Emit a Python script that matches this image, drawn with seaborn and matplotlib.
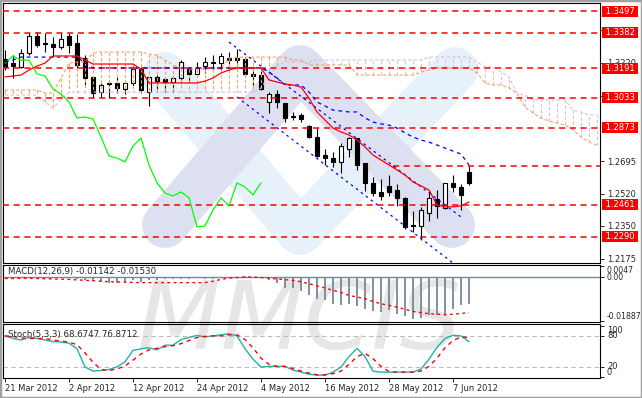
import numpy as np
import pandas as pd
import matplotlib
matplotlib.use("Agg")
import matplotlib.pyplot as plt
import seaborn as sns
from matplotlib.textpath import TextPath
from matplotlib.patches import PathPatch, Rectangle
from matplotlib.font_manager import FontProperties
from matplotlib.transforms import Affine2D

# daily candles, 21 Mar 2012 - 11 Jun 2012
opens = [1.3240, 1.3219, 1.3198, 1.3273, 1.3364, 1.3326, 1.3321, 1.3305, 1.3364, 1.3326,
         1.3246, 1.3145, 1.3064, 1.3113, 1.3113, 1.3081, 1.3113, 1.3187, 1.3064, 1.3145,
         1.3134, 1.3118, 1.3139, 1.3187, 1.3161, 1.3203, 1.3225, 1.3219, 1.3246, 1.3246,
         1.3241, 1.3161, 1.3155, 1.3011, 1.3054, 1.3006, 1.2936, 1.2942, 1.2883, 1.2824,
         1.2728, 1.2712, 1.2691, 1.2760, 1.2819, 1.2685, 1.2579, 1.2531, 1.2562, 1.2541,
         1.2499, 1.2352, 1.2349, 1.2418, 1.2493, 1.2445, 1.2579, 1.2557, 1.2637]
highs = [1.3289, 1.3262, 1.3294, 1.3380, 1.3385, 1.3380, 1.3358, 1.3380, 1.3380, 1.3374,
         1.3262, 1.3145, 1.3113, 1.3129, 1.3145, 1.3123, 1.3214, 1.3198, 1.3145, 1.3155,
         1.3145, 1.3150, 1.3235, 1.3198, 1.3225, 1.3251, 1.3262, 1.3273, 1.3278, 1.3294,
         1.3251, 1.3193, 1.3182, 1.3064, 1.3075, 1.3006, 1.2958, 1.2952, 1.2888, 1.2872,
         1.2760, 1.2744, 1.2792, 1.2824, 1.2819, 1.2685, 1.2611, 1.2600, 1.2621, 1.2573,
         1.2504, 1.2429, 1.2451, 1.2536, 1.2541, 1.2579, 1.2621, 1.2573, 1.2669]
lows = [1.3182, 1.3139, 1.3193, 1.3262, 1.3305, 1.3278, 1.3251, 1.3294, 1.3273, 1.3182,
        1.3102, 1.3038, 1.3038, 1.3032, 1.3059, 1.3054, 1.3097, 1.3059, 1.2990, 1.3064,
        1.3064, 1.3064, 1.3113, 1.3113, 1.3155, 1.3166, 1.3187, 1.3182, 1.3203, 1.3203,
        1.3145, 1.3097, 1.3075, 1.2952, 1.2979, 1.2904, 1.2915, 1.2904, 1.2819, 1.2717,
        1.2675, 1.2664, 1.2632, 1.2717, 1.2648, 1.2536, 1.2509, 1.2488, 1.2509, 1.2456,
        1.2333, 1.2317, 1.2275, 1.2376, 1.2392, 1.2440, 1.2531, 1.2434, 1.2568]
closes = [1.3200, 1.3203, 1.3273, 1.3364, 1.3315, 1.3321, 1.3305, 1.3347, 1.3315, 1.3209,
          1.3139, 1.3059, 1.3102, 1.3107, 1.3086, 1.3113, 1.3187, 1.3075, 1.3145, 1.3123,
          1.3118, 1.3139, 1.3225, 1.3161, 1.3193, 1.3225, 1.3219, 1.3257, 1.3235, 1.3235,
          1.3161, 1.3150, 1.3081, 1.3054, 1.3011, 1.2926, 1.2931, 1.2920, 1.2824, 1.2723,
          1.2712, 1.2691, 1.2776, 1.2819, 1.2675, 1.2579, 1.2525, 1.2509, 1.2531, 1.2499,
          1.2344, 1.2349, 1.2434, 1.2499, 1.2456, 1.2579, 1.2557, 1.2515, 1.2579]

# Ichimoku lines
tenkan = [1.3145, 1.3150, 1.3155, 1.3182, 1.3203, 1.3219, 1.3257, 1.3257, 1.3257, 1.3257,
          1.3235, 1.3214, 1.3214, 1.3214, 1.3214, 1.3214, 1.3214, 1.3187, 1.3113, 1.3113,
          1.3113, 1.3113, 1.3113, 1.3113, 1.3113, 1.3123, 1.3139, 1.3166, 1.3182, 1.3193,
          1.3193, 1.3193, 1.3193, 1.3129, 1.3118, 1.3107, 1.3102, 1.3091, 1.3032, 1.2958,
          1.2915, 1.2872, 1.2851, 1.2835, 1.2808, 1.2771, 1.2728, 1.2701, 1.2675, 1.2648,
          1.2621, 1.2584, 1.2563, 1.2541, 1.2461, 1.2451, 1.2451, 1.2456, 1.2477]
kijun = [1.3225, 1.3235, 1.3251, 1.3251, 1.3251, 1.3251, 1.3251, 1.3251, 1.3251, 1.3251,
         1.3219, 1.3193, 1.3193, 1.3193, 1.3193, 1.3193, 1.3193, 1.3193, 1.3193, 1.3193,
         1.3193, 1.3193, 1.3193, 1.3193, 1.3193, 1.3193, 1.3193, 1.3193, 1.3193, 1.3193,
         1.3193, 1.3193, 1.3193, 1.3171, 1.3139, 1.3102, 1.3102, 1.3102, 1.3064, 1.3011,
         1.2990, 1.2968, 1.2963, 1.2958, 1.2958, 1.2926, 1.2904, 1.2894, 1.2888, 1.2872,
         1.2846, 1.2824, 1.2808, 1.2797, 1.2781, 1.2765, 1.2749, 1.2733, 1.2675]
span_a = [1.3075, 1.3075, 1.3075, 1.3075, 1.3075, 1.3059, 1.3059, 1.3139, 1.3219, 1.3225,
          1.3225, 1.3273, 1.3278, 1.3278, 1.3278, 1.3278, 1.3278, 1.3278, 1.3267, 1.3262,
          1.3235, 1.3209, 1.3193, 1.3187, 1.3187, 1.3187, 1.3187, 1.3187, 1.3246, 1.3251,
          1.3251, 1.3251, 1.3251, 1.3251, 1.3251, 1.3251, 1.3235, 1.3235, 1.3209, 1.3209,
          1.3209, 1.3209, 1.3209, 1.3209, 1.3155, 1.3155, 1.3155, 1.3155, 1.3155, 1.3155,
          1.3155, 1.3155, 1.3171, 1.3182, 1.3193, 1.3193, 1.3193, 1.3193, 1.3193, 1.3166,
          1.3113, 1.3102, 1.3102, 1.3086, 1.3059, 1.2984, 1.2952, 1.2926, 1.2910, 1.2899,
          1.2888, 1.2862, 1.2824, 1.2797, 1.2781]
span_b = [1.3048, 1.3048, 1.3048, 1.3048, 1.3048, 1.3011, 1.2979, 1.3022, 1.3064, 1.3064,
          1.3064, 1.3064, 1.3064, 1.3064, 1.3064, 1.3064, 1.3064, 1.3064, 1.3064, 1.3064,
          1.3064, 1.3064, 1.3064, 1.3064, 1.3064, 1.3064, 1.3064, 1.3064, 1.3064, 1.3064,
          1.3064, 1.3064, 1.3086, 1.3155, 1.3203, 1.3225, 1.3225, 1.3225, 1.3225, 1.3235,
          1.3235, 1.3235, 1.3235, 1.3235, 1.3235, 1.3235, 1.3235, 1.3235, 1.3235, 1.3235,
          1.3235, 1.3235, 1.3235, 1.3251, 1.3251, 1.3251, 1.3251, 1.3251, 1.3251, 1.3225,
          1.3198, 1.3198, 1.3171, 1.3145, 1.3059, 1.3048, 1.3022, 1.3022, 1.3022, 1.3022,
          1.3022, 1.2968, 1.2958, 1.2942, 1.2942]
chikou_shift = 26

# trend channel and horizontal levels
chan_up_bars = [28, 57]
chan_up = [1.3331, 1.2397]
chan_lo_bars = [29, 57]
chan_lo = [1.3038, 1.2118]
levels = [1.3497, 1.3382, 1.3191, 1.3033, 1.2873, 1.2461, 1.2290]
ray_level = 1.2669
ray_start = 48.5
price_ticks = [1.2175, 1.2350, 1.2520, 1.2695, 1.3045, 1.3220, 1.3395]

# MACD(12,26,9)
macd_hist = [-0.0002, -0.0002, -0.0001, 0.0001, 0.0002, 0.0001, -0.0001, -0.0003, -0.0006, -0.0010,
             -0.0014, -0.0018, -0.0022, -0.0024, -0.0026, -0.0021, -0.0014, -0.0021, -0.0014, -0.0012,
             -0.0010, -0.0010, -0.0008, -0.0008, -0.0006, -0.0008, -0.0008, -0.0006, -0.0002, 0.0002,
             0.0003, 0.0001, -0.0004, -0.0014, -0.0024, -0.0047, -0.0047, -0.0062, -0.0076, -0.0093,
             -0.0100, -0.0115, -0.0119, -0.0115, -0.0125, -0.0136, -0.0148, -0.0151, -0.0143, -0.0158,
             -0.0168, -0.0179, -0.0176, -0.0165, -0.0165, -0.0162, -0.0136, -0.0120, -0.0114]
macd_signal = [-0.0006, -0.0006, -0.0005, -0.0005, -0.0006, -0.0007, -0.0008, -0.0009, -0.0010, -0.0012,
               -0.0014, -0.0016, -0.0018, -0.0020, -0.0021, -0.0022, -0.0023, -0.0024, -0.0024, -0.0024,
               -0.0024, -0.0024, -0.0024, -0.0024, -0.0024, -0.0024, -0.0018, -0.0010, -0.0004, -0.0002,
               0.0000, 0.0000, -0.0002, -0.0004, -0.0008, -0.0011, -0.0014, -0.0020, -0.0029, -0.0038,
               -0.0047, -0.0057, -0.0066, -0.0079, -0.0086, -0.0093, -0.0105, -0.0115, -0.0122, -0.0129,
               -0.0139, -0.0148, -0.0153, -0.0158, -0.0160, -0.0162, -0.0160, -0.0157, -0.0153]
macd_max, macd_min = 0.0047, -0.01887
macd_title = "MACD(12,26,9) -0.01142 -0.01530"

# Stochastic(5,3,3)
stoch_k = [80, 75, 72, 77, 75, 72, 69, 68, 66, 55, 20, 12, 13, 15, 20, 30, 52, 55, 57, 53,
           62, 62, 73, 77, 81, 78, 80, 82, 84, 80, 55, 35, 20, 21, 21, 21, 14, 10, 6, 4,
           4, 10, 20, 40, 56, 40, 12, 10, 10, 10, 10, 10, 16, 35, 58, 75, 81, 80, 68.7]
stoch_d = [80, 79, 76, 75, 75, 75, 72, 70, 68, 63, 47, 29, 15, 13, 16, 22, 33, 45, 53, 56,
           59, 61, 65, 71, 77, 79, 80, 80, 82, 82, 73, 57, 37, 25, 21, 21, 17, 12, 8, 5,
           5, 7, 12, 25, 40, 46, 36, 21, 11, 10, 10, 10, 12, 21, 37, 57, 71, 78, 76.9]
stoch_title = "Stoch(5,3,3) 68.6747 76.8712"

date_bars = [0, 8, 16, 24, 32, 40, 48, 56]
date_labels = ["21 Mar 2012", "2 Apr 2012", "12 Apr 2012", "24 Apr 2012",
               "4 May 2012", "16 May 2012", "28 May 2012", "7 Jun 2012"]

sns.set_style("white")
plt.rcParams["font.family"] = ["DejaVu Sans"]

W, H = 642, 398
fig = plt.figure(figsize=(W / 100, H / 100), dpi=100)


def panel(top, bottom):
    a = fig.add_axes([3 / W, 1 - bottom / H, 597 / W, (bottom - top) / H])
    a.set_facecolor("none")
    for s in a.spines.values():
        s.set_color("black")
        s.set_linewidth(0.8)
    a.set_xlim(-0.25, 74.375)
    return a


ax = panel(3, 263)
ax_macd = panel(265, 322)
ax_st = panel(324, 378)

df = pd.DataFrame({"o": opens, "h": highs, "l": lows, "c": closes})
df["bar"] = np.arange(len(df))
cloud_x = np.arange(len(span_a))


# watermark logo in the price panel
def frac(x, y):
    return (x - 3) / 597, (263 - y) / 260


for pts, col in [([(165, 75), (300, 232), (455, 70)], "#e7f1fa"),
                 ([(165, 225), (300, 68), (452, 225)], "#dce0f0")]:
    fx, fy = zip(*[frac(*p) for p in pts])
    ax.plot(fx, fy, transform=ax.transAxes, color=col, lw=33,
            solid_capstyle="round", solid_joinstyle="round", zorder=0.3)

# candles
up = df["c"] >= df["o"]
ax.vlines(df["bar"], df["l"], df["h"], color="black", lw=0.8, zorder=2)
body = (df["c"] - df["o"]).abs().clip(lower=0.00004)
ax.bar(df["bar"], body, bottom=np.minimum(df["o"], df["c"]), width=0.62,
       color=np.where(up, "white", "black"), edgecolor="black", linewidth=0.8, zorder=2.2)

# ichimoku cloud (hatched with vertical dotted lines)
for x, a, b in zip(cloud_x, span_a, span_b):
    col = "#f4a460" if a >= b else "#d8bfd8"
    ax.plot([x, x], [a, b], color=col, lw=0.8, ls=(0, (3, 2)), zorder=3)
sns.lineplot(x=cloud_x, y=span_a, ax=ax, color="#f4a460", lw=0.8, ls=(0, (3, 2)), zorder=3)
sns.lineplot(x=cloud_x, y=span_b, ax=ax, color="#d8bfd8", lw=0.8, ls=(0, (3, 2)), zorder=3)

# levels and channel
for lv in levels:
    ax.axhline(lv, color="red", lw=1.1, ls=(0, (4, 3)), zorder=3.5)
ax.plot([ray_start, 74.4], [ray_level, ray_level], color="red", lw=1.1, ls=(0, (4, 3)), zorder=3.5)
ax.plot(chan_up_bars, chan_up, color="blue", lw=0.9, ls=(0, (2, 3)), zorder=3.5)
ax.plot(chan_lo_bars, chan_lo, color="blue", lw=0.9, ls=(0, (2, 3)), zorder=3.5)

chikou = closes[chikou_shift:]
sns.lineplot(x=np.arange(len(chikou)), y=chikou, ax=ax, color="#00ff00", lw=0.9, zorder=4)
sns.lineplot(x=df["bar"], y=kijun, ax=ax, color="blue", lw=0.9, ls=(0, (3, 3)), zorder=4)
sns.lineplot(x=df["bar"], y=tenkan, ax=ax, color="red", lw=0.9, zorder=4)

ax.set_ylim(1.2151, 1.3540)
ax.set_yticks(price_ticks)
ax.set_yticklabels([f"{v:.4f}" for v in price_ticks])
ax.tick_params(axis="y", left=False, right=True, labelleft=False, labelright=True,
               length=3, width=0.7, labelsize=6, pad=2, direction="out")
ax.tick_params(axis="x", bottom=False, labelbottom=False)
ax.set_xlabel("")
ax.set_ylabel("")
for lv in levels:
    ax.text(1.005, lv, f" {lv:.4f} ", transform=ax.get_yaxis_transform(), color="white",
            fontsize=6, va="center", ha="left", zorder=10, clip_on=False,
            bbox=dict(boxstyle="square,pad=0.12", fc="red", ec="none"))

# MACD panel
ax_macd.axhline(0, color="#778899", lw=1.0, zorder=1)
ax_macd.vlines(df["bar"], 0, macd_hist, color="#778899", lw=1.3, zorder=2)
sns.lineplot(x=df["bar"], y=macd_signal, ax=ax_macd, color="red", lw=1.0, ls=(0, (2, 2.5)), zorder=3)
ax_macd.set_ylim(-0.01935, 0.0052)
ax_macd.set_yticks([macd_max, 0, macd_min])
ax_macd.set_yticklabels([f"{macd_max:.4f}", "0.00", f"{macd_min:.5f}"])
ax_macd.tick_params(axis="y", left=False, right=True, labelleft=False, labelright=True,
                    length=3, width=0.7, labelsize=5.6, pad=1.5)
for lbl, va in zip(ax_macd.get_yticklabels(), ["top", "center", "bottom"]):
    lbl.set_va(va)
ax_macd.tick_params(axis="x", bottom=False, labelbottom=False)
ax_macd.set_xlabel("")
ax_macd.set_ylabel("")
ax_macd.text(0.009, 0.88, macd_title, transform=ax_macd.transAxes,
             fontsize=6.2, va="center", ha="left", zorder=5)

# Stochastic panel
for lv in [20, 80]:
    ax_st.axhline(lv, color="#bbbbbb", lw=0.8, ls=(0, (4, 3)), zorder=1)
sns.lineplot(x=df["bar"], y=stoch_k, ax=ax_st, color="#20b2aa", lw=1.0, zorder=3)
sns.lineplot(x=df["bar"], y=stoch_d, ax=ax_st, color="red", lw=1.0, ls=(0, (3, 3)), zorder=3)
ax_st.set_ylim(-1.4, 103)
ax_st.set_yticks([100, 80, 20, 0])
ax_st.set_yticklabels(["100", "80", "20", "0"])
ax_st.tick_params(axis="y", left=False, right=True, labelleft=False, labelright=True,
                  length=3, width=0.7, labelsize=6, pad=2)
for lbl, va in zip(ax_st.get_yticklabels(), ["top", "center", "center", "bottom"]):
    lbl.set_va(va)
ax_st.set_xticks(date_bars)
ax_st.set_xticklabels(date_labels, ha="left")
ax_st.tick_params(axis="x", bottom=True, length=3, width=0.7, labelsize=6, pad=1.5)
ax_st.set_xlabel("")
ax_st.set_ylabel("")
ax_st.text(0.009, 0.80, stoch_title, transform=ax_st.transAxes,
           fontsize=6.2, va="center", ha="left", zorder=5)

# MMCIS watermark behind the indicator panels
tp = TextPath((0, 0), "MMCIS", size=100,
              prop=FontProperties(family="DejaVu Sans", style="oblique"))
bb = tp.get_extents()
x0, x1, y0, y1 = 140, 458, 279, 350
tr = (Affine2D().translate(-bb.x0, -bb.y0)
      .scale((x1 - x0) / bb.width, (y1 - y0) / bb.height)
      .translate(x0, H - y1).scale(1 / W, 1 / H))
fig.add_artist(PathPatch(tp, transform=tr + fig.transFigure, facecolor="#e6e6e6",
                         edgecolor="none", zorder=-1))

fig.add_artist(Rectangle((0, 0), 1, 1, transform=fig.transFigure, fill=False,
                         edgecolor="#a0a0a0", lw=2.5, zorder=20))

fig.savefig("out.png", dpi=100)
